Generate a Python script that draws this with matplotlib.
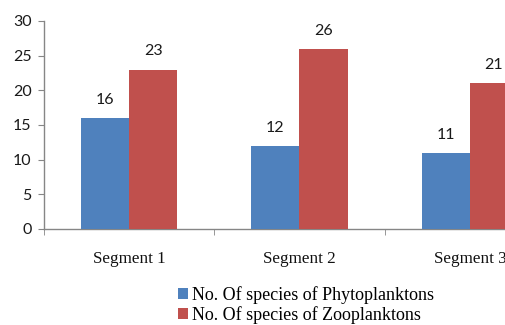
import numpy as np
import matplotlib
matplotlib.use("Agg")
import matplotlib.pyplot as plt
from matplotlib.patches import Patch

# ── Data ──────────────────────────────────────────────────────────────────────
segments = ["Segment 1", "Segment 2", "Segment 3"]
phyto = [16, 12, 11]
zoo = [23, 26, 21]
series_names = ["No. Of species of Phytoplanktons", "No. Of species of Zooplanktons"]

BLUE = "#4F81BD"
RED = "#C0504D"
AXIS_GREY = "#868686"

# ── Figure ────────────────────────────────────────────────────────────────────
W, H = 506, 325
fig = plt.figure(figsize=(W / 100, H / 100), dpi=100)

# axes box in pixels: left 44, bottom 229, top 21; right edge lies past the crop
left, right, top, bottom = 44, 555, 21, 229
ax = fig.add_axes([left / W, (H - bottom) / H, (right - left) / W, (bottom - top) / H])

x = np.arange(len(segments))
bw = 0.282
ax.bar(x - bw / 2, phyto, bw, color=BLUE, zorder=3)
ax.bar(x + bw / 2, zoo, bw, color=RED, zorder=3)

num_font = "Lato"
for xi, v in zip(x, phyto):
    ax.text(xi - bw / 2, v + 1.6, str(v), ha="center", va="bottom",
            fontsize=11.5, family=num_font, color="#1a1a1a")
for xi, v in zip(x, zoo):
    ax.text(xi + bw / 2, v + 1.6, str(v), ha="center", va="bottom",
            fontsize=11.5, family=num_font, color="#1a1a1a")

ax.set_xlim(-0.5, 2.5)
ax.set_ylim(0, 30)
ax.set_yticks(range(0, 31, 5))
for lbl in ax.get_yticklabels():
    lbl.set_family(num_font)
    lbl.set_fontsize(11.5)
    lbl.set_color("#1a1a1a")

# category labels, separator ticks between categories
ax.set_xticks(x)
ax.set_xticklabels(segments, family="Liberation Serif", fontsize=12.3, color="#111111")
ax.tick_params(axis="x", length=0, pad=16)
ax.set_xticks([-0.5, 0.5, 1.5, 2.5], minor=True)
ax.tick_params(axis="x", which="minor", length=4, color=AXIS_GREY, direction="out")
ax.tick_params(axis="y", length=4, color=AXIS_GREY, direction="out", pad=5)

for side in ("top", "right"):
    ax.spines[side].set_visible(False)
for side in ("left", "bottom"):
    ax.spines[side].set_color(AXIS_GREY)
    ax.spines[side].set_linewidth(1)

# ── Legend ────────────────────────────────────────────────────────────────────
handles = [Patch(facecolor=BLUE), Patch(facecolor=RED)]
fig.legend(handles, series_names, loc="upper left",
           bbox_to_anchor=(178 / W, 1 - 286 / H), frameon=False,
           prop={"family": "Liberation Serif", "size": 13},
           handlelength=0.55, handleheight=0.55, handletextpad=0.2,
           labelspacing=0.12, borderaxespad=0, borderpad=0)

fig.savefig("out.png", dpi=100)
